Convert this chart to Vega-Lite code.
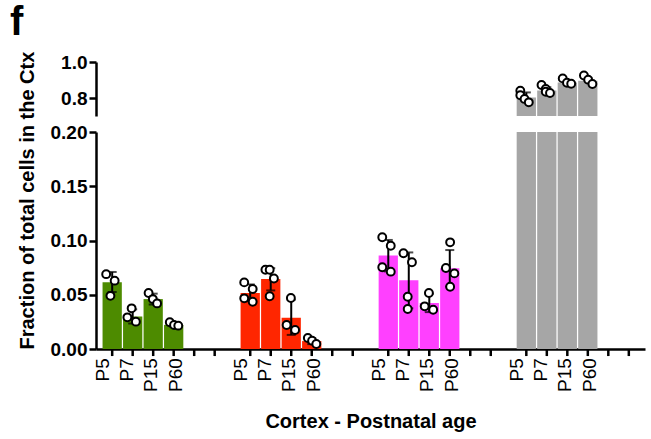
{
  "$schema": "https://vega.github.io/schema/vega-lite/v6.json",
  "padding": {"left": 10, "top": 3, "right": 5, "bottom": 5},
  "config": {
    "font": "Liberation Sans",
    "view": {"stroke": null},
    "axis": {"grid": false, "domainColor": "black", "tickColor": "black", "labelColor": "black", "titleColor": "black", "domainWidth": 2.5, "tickWidth": 2.5, "tickSize": 7, "labelFont": "Liberation Sans", "titleFont": "Liberation Sans", "labelOverlap": false}
  },
  "title": {"text": "f", "anchor": "start", "frame": "group", "fontSize": 40, "fontWeight": "bold", "font": "Liberation Sans", "color": "black", "dx": -86, "offset": 8},
  "spacing": 16,
  "bounds": "flush",
  "datasets": {
    "bars": [
      {"group": "Type 1", "age": "P5", "mean": 0.0615, "lo": 0.0525, "hi": 0.071},
      {"group": "Type 1", "age": "P7", "mean": 0.030, "lo": 0.0235, "hi": 0.0365},
      {"group": "Type 1", "age": "P15", "mean": 0.046, "lo": 0.041, "hi": 0.051},
      {"group": "Type 1", "age": "P60", "mean": 0.0222, "lo": 0.0208, "hi": 0.0237},
      {"group": "Type 2", "age": "P5", "mean": 0.0516, "lo": 0.044, "hi": 0.0595},
      {"group": "Type 2", "age": "P7", "mean": 0.0645, "lo": 0.054, "hi": 0.0745},
      {"group": "Type 2", "age": "P15", "mean": 0.0288, "lo": 0.013, "hi": 0.0455},
      {"group": "Type 2", "age": "P60", "mean": 0.0073, "lo": 0.0045, "hi": 0.010},
      {"group": "Type 3", "age": "P5", "mean": 0.0862, "lo": 0.0715, "hi": 0.1005},
      {"group": "Type 3", "age": "P7", "mean": 0.0633, "lo": 0.0375, "hi": 0.089},
      {"group": "Type 3", "age": "P15", "mean": 0.0424, "lo": 0.034, "hi": 0.051},
      {"group": "Type 3", "age": "P60", "mean": 0.0744, "lo": 0.0575, "hi": 0.0912},
      {"group": "Type 4", "age": "P5", "mean": 0.803, "lo": 0.775, "hi": 0.831},
      {"group": "Type 4", "age": "P7", "mean": 0.842, "lo": 0.825, "hi": 0.860},
      {"group": "Type 4", "age": "P15", "mean": 0.886, "lo": 0.876, "hi": 0.897},
      {"group": "Type 4", "age": "P60", "mean": 0.896, "lo": 0.880, "hi": 0.912}
    ],
    "points": [
      {"group": "Type 1", "age": "P5", "side": "L", "value": 0.069},
      {"group": "Type 1", "age": "P5", "side": "R", "value": 0.063},
      {"group": "Type 1", "age": "P5", "side": "C", "value": 0.049},
      {"group": "Type 1", "age": "P7", "side": "C", "value": 0.0375},
      {"group": "Type 1", "age": "P7", "side": "L", "value": 0.0292},
      {"group": "Type 1", "age": "P7", "side": "R", "value": 0.0252},
      {"group": "Type 1", "age": "P15", "side": "L", "value": 0.0516},
      {"group": "Type 1", "age": "P15", "side": "C", "value": 0.046},
      {"group": "Type 1", "age": "P15", "side": "R", "value": 0.042},
      {"group": "Type 1", "age": "P60", "side": "L", "value": 0.0246},
      {"group": "Type 1", "age": "P60", "side": "C", "value": 0.0221},
      {"group": "Type 1", "age": "P60", "side": "R", "value": 0.0215},
      {"group": "Type 2", "age": "P5", "side": "L", "value": 0.0614},
      {"group": "Type 2", "age": "P5", "side": "R", "value": 0.0553},
      {"group": "Type 2", "age": "P5", "side": "L", "value": 0.0467},
      {"group": "Type 2", "age": "P5", "side": "R", "value": 0.0436},
      {"group": "Type 2", "age": "P7", "side": "L", "value": 0.073},
      {"group": "Type 2", "age": "P7", "side": "C", "value": 0.073},
      {"group": "Type 2", "age": "P7", "side": "R", "value": 0.065},
      {"group": "Type 2", "age": "P7", "side": "C", "value": 0.0486},
      {"group": "Type 2", "age": "P15", "side": "C", "value": 0.047},
      {"group": "Type 2", "age": "P15", "side": "L", "value": 0.0221},
      {"group": "Type 2", "age": "P15", "side": "R", "value": 0.0175},
      {"group": "Type 2", "age": "P60", "side": "L", "value": 0.0101},
      {"group": "Type 2", "age": "P60", "side": "C", "value": 0.0077},
      {"group": "Type 2", "age": "P60", "side": "R", "value": 0.0046},
      {"group": "Type 3", "age": "P5", "side": "L", "value": 0.103},
      {"group": "Type 3", "age": "P5", "side": "R", "value": 0.0952},
      {"group": "Type 3", "age": "P5", "side": "L", "value": 0.0753},
      {"group": "Type 3", "age": "P5", "side": "R", "value": 0.0713},
      {"group": "Type 3", "age": "P7", "side": "L", "value": 0.0882},
      {"group": "Type 3", "age": "P7", "side": "R", "value": 0.080},
      {"group": "Type 3", "age": "P7", "side": "C", "value": 0.0482},
      {"group": "Type 3", "age": "P7", "side": "C", "value": 0.0369},
      {"group": "Type 3", "age": "P15", "side": "C", "value": 0.0516},
      {"group": "Type 3", "age": "P15", "side": "L", "value": 0.0393},
      {"group": "Type 3", "age": "P15", "side": "R", "value": 0.0362},
      {"group": "Type 3", "age": "P60", "side": "C", "value": 0.0983},
      {"group": "Type 3", "age": "P60", "side": "L", "value": 0.0747},
      {"group": "Type 3", "age": "P60", "side": "R", "value": 0.0697},
      {"group": "Type 3", "age": "P60", "side": "C", "value": 0.0574},
      {"group": "Type 4", "age": "P5", "side": "L", "value": 0.840},
      {"group": "Type 4", "age": "P5", "side": "L", "value": 0.815},
      {"group": "Type 4", "age": "P5", "side": "C", "value": 0.795},
      {"group": "Type 4", "age": "P5", "side": "R", "value": 0.776},
      {"group": "Type 4", "age": "P7", "side": "L", "value": 0.872},
      {"group": "Type 4", "age": "P7", "side": "C", "value": 0.850},
      {"group": "Type 4", "age": "P7", "side": "C", "value": 0.835},
      {"group": "Type 4", "age": "P7", "side": "R", "value": 0.828},
      {"group": "Type 4", "age": "P15", "side": "L", "value": 0.909},
      {"group": "Type 4", "age": "P15", "side": "C", "value": 0.885},
      {"group": "Type 4", "age": "P15", "side": "R", "value": 0.879},
      {"group": "Type 4", "age": "P60", "side": "L", "value": 0.925},
      {"group": "Type 4", "age": "P60", "side": "C", "value": 0.902},
      {"group": "Type 4", "age": "P60", "side": "R", "value": 0.878}
    ],
    "ticks": [
      {"group": "Type 1", "age": "P5", "label": "P5"},
      {"group": "Type 1", "age": "P7", "label": "P7"},
      {"group": "Type 1", "age": "P15", "label": "P15"},
      {"group": "Type 1", "age": "P60", "label": "P60"},
      {"group": "Type 1", "age": "e1", "label": ""},
      {"group": "Type 1", "age": "e2", "label": ""},
      {"group": "Type 2", "age": "P5", "label": "P5"},
      {"group": "Type 2", "age": "P7", "label": "P7"},
      {"group": "Type 2", "age": "P15", "label": "P15"},
      {"group": "Type 2", "age": "P60", "label": "P60"},
      {"group": "Type 2", "age": "e1", "label": ""},
      {"group": "Type 2", "age": "e2", "label": ""},
      {"group": "Type 3", "age": "P5", "label": "P5"},
      {"group": "Type 3", "age": "P7", "label": "P7"},
      {"group": "Type 3", "age": "P15", "label": "P15"},
      {"group": "Type 3", "age": "P60", "label": "P60"},
      {"group": "Type 3", "age": "e1", "label": ""},
      {"group": "Type 3", "age": "e2", "label": ""},
      {"group": "Type 4", "age": "P5", "label": "P5"},
      {"group": "Type 4", "age": "P7", "label": "P7"},
      {"group": "Type 4", "age": "P15", "label": "P15"},
      {"group": "Type 4", "age": "P60", "label": "P60"},
      {"group": "Type 4", "age": "e1", "label": ""},
      {"group": "Type 4", "age": "e2", "label": ""}
    ]
  },
  "vconcat": [
    {
      "width": 549,
      "height": 54,
      "resolve": {"scale": {"xOffset": "independent"}},
      "encoding": {
        "x": {"field": "group", "type": "nominal", "scale": {"domain": ["Type 1", "Type 2", "Type 3", "Type 4"], "paddingInner": 0.109, "paddingOuter": 0.043}, "axis": null}
      },
      "layer": [
        {
          "data": {"name": "bars"},
          "mark": {"type": "bar", "clip": true},
          "encoding": {
            "xOffset": {"field": "age", "type": "nominal", "scale": {"domain": ["P5", "P7", "P15", "P60", "e1", "e2"], "paddingInner": 0.06, "paddingOuter": 0.03}},
            "y": {"field": "mean", "type": "quantitative", "scale": {"domain": [0.7, 1.0], "nice": false, "zero": false}, "axis": {"title": null, "values": [0.8, 1.0], "format": ".1f", "labelFontSize": 19, "labelFontWeight": "bold", "labelPadding": 2}},
            "color": {"field": "group", "type": "nominal", "scale": {"domain": ["Type 1", "Type 2", "Type 3", "Type 4"], "range": ["#4d8b00", "#ff2600", "#ff40ff", "#a6a6a6"]}, "legend": null}
          }
        },
        {
          "data": {"name": "bars"},
          "transform": [{"filter": "datum.group == 'Type 4'"}],
          "mark": {"type": "rule", "color": "black", "strokeWidth": 2, "clip": true},
          "encoding": {
            "xOffset": {"field": "age", "type": "nominal", "scale": {"domain": ["P5", "P7", "P15", "P60", "e1", "e2"], "paddingInner": 0.06, "paddingOuter": 0.03}},
            "y": {"field": "lo", "type": "quantitative"},
            "y2": {"field": "hi"}
          }
        },
        {
          "data": {"name": "bars"},
          "transform": [{"filter": "datum.group == 'Type 4'"}],
          "mark": {"type": "tick", "color": "black", "thickness": 2, "size": 9, "orient": "horizontal", "clip": true},
          "encoding": {
            "xOffset": {"field": "age", "type": "nominal", "scale": {"domain": ["P5", "P7", "P15", "P60", "e1", "e2"], "paddingInner": 0.06, "paddingOuter": 0.03}},
            "y": {"field": "hi", "type": "quantitative"}
          }
        },
        {
          "data": {"name": "points"},
          "transform": [{"filter": "datum.group == 'Type 4'"}, {"calculate": "datum.age + '|' + datum.side", "as": "slot"}],
          "mark": {"type": "point", "shape": "circle", "fill": "white", "stroke": "black", "strokeWidth": 2, "size": 62, "opacity": 1},
          "encoding": {
            "xOffset": {"field": "slot", "type": "nominal", "scale": {"domain": ["P5|LL", "P5|L", "P5|C", "P5|R", "P5|RR", "P7|LL", "P7|L", "P7|C", "P7|R", "P7|RR", "P15|LL", "P15|L", "P15|C", "P15|R", "P15|RR", "P60|LL", "P60|L", "P60|C", "P60|R", "P60|RR", "e1|LL", "e1|L", "e1|C", "e1|R", "e1|RR", "e2|LL", "e2|L", "e2|C", "e2|R", "e2|RR"], "paddingInner": 0, "paddingOuter": 0}},
            "y": {"field": "value", "type": "quantitative"}
          }
        }
      ]
    },
    {
      "width": 549,
      "height": 217,
      "resolve": {"scale": {"xOffset": "independent"}},
      "encoding": {
        "x": {"field": "group", "type": "nominal", "scale": {"domain": ["Type 1", "Type 2", "Type 3", "Type 4"], "paddingInner": 0.109, "paddingOuter": 0.043}, "axis": {"title": "Cortex - Postnatal age", "labels": false, "ticks": false, "titleFontSize": 20, "titleFontWeight": "bold", "titlePadding": 62}}
      },
      "layer": [
        {
          "data": {"name": "bars"},
          "mark": {"type": "bar", "clip": true},
          "encoding": {
            "xOffset": {"field": "age", "type": "nominal", "scale": {"domain": ["P5", "P7", "P15", "P60", "e1", "e2"], "paddingInner": 0.06, "paddingOuter": 0.03}},
            "y": {"field": "mean", "type": "quantitative", "scale": {"domain": [0, 0.2], "nice": false}, "axis": {"title": "Fraction of total cells in the Ctx", "titleAnchor": "start", "titleFontSize": 20, "titleFontWeight": "bold", "titlePadding": 13, "values": [0, 0.05, 0.1, 0.15, 0.2], "format": ".2f", "labelFontSize": 19, "labelFontWeight": "bold", "labelPadding": 2}},
            "color": {"field": "group", "type": "nominal", "scale": {"domain": ["Type 1", "Type 2", "Type 3", "Type 4"], "range": ["#4d8b00", "#ff2600", "#ff40ff", "#a6a6a6"]}, "legend": null}
          }
        },
        {
          "data": {"name": "bars"},
          "transform": [{"filter": "datum.group != 'Type 4'"}],
          "mark": {"type": "rule", "color": "black", "strokeWidth": 2},
          "encoding": {
            "xOffset": {"field": "age", "type": "nominal", "scale": {"domain": ["P5", "P7", "P15", "P60", "e1", "e2"], "paddingInner": 0.06, "paddingOuter": 0.03}},
            "y": {"field": "lo", "type": "quantitative"},
            "y2": {"field": "hi"}
          }
        },
        {
          "data": {"name": "bars"},
          "transform": [{"filter": "datum.group != 'Type 4'"}],
          "mark": {"type": "tick", "color": "black", "thickness": 2, "size": 9, "orient": "horizontal"},
          "encoding": {
            "xOffset": {"field": "age", "type": "nominal", "scale": {"domain": ["P5", "P7", "P15", "P60", "e1", "e2"], "paddingInner": 0.06, "paddingOuter": 0.03}},
            "y": {"field": "hi", "type": "quantitative"}
          }
        },
        {
          "data": {"name": "bars"},
          "transform": [{"filter": "datum.group != 'Type 4'"}],
          "mark": {"type": "tick", "color": "black", "thickness": 2, "size": 9, "orient": "horizontal"},
          "encoding": {
            "xOffset": {"field": "age", "type": "nominal", "scale": {"domain": ["P5", "P7", "P15", "P60", "e1", "e2"], "paddingInner": 0.06, "paddingOuter": 0.03}},
            "y": {"field": "lo", "type": "quantitative"}
          }
        },
        {
          "data": {"name": "points"},
          "transform": [{"filter": "datum.group != 'Type 4'"}, {"calculate": "datum.age + '|' + datum.side", "as": "slot"}],
          "mark": {"type": "point", "shape": "circle", "fill": "white", "stroke": "black", "strokeWidth": 2, "size": 62, "opacity": 1},
          "encoding": {
            "xOffset": {"field": "slot", "type": "nominal", "scale": {"domain": ["P5|LL", "P5|L", "P5|C", "P5|R", "P5|RR", "P7|LL", "P7|L", "P7|C", "P7|R", "P7|RR", "P15|LL", "P15|L", "P15|C", "P15|R", "P15|RR", "P60|LL", "P60|L", "P60|C", "P60|R", "P60|RR", "e1|LL", "e1|L", "e1|C", "e1|R", "e1|RR", "e2|LL", "e2|L", "e2|C", "e2|R", "e2|RR"], "paddingInner": 0, "paddingOuter": 0}},
            "y": {"field": "value", "type": "quantitative"}
          }
        },
        {
          "data": {"name": "ticks"},
          "mark": {"type": "rule", "color": "black", "strokeWidth": 2.5},
          "encoding": {
            "xOffset": {"field": "age", "type": "nominal", "scale": {"domain": ["P5", "P7", "P15", "P60", "e1", "e2"], "paddingInner": 0.06, "paddingOuter": 0.03}},
            "y": {"datum": 0, "type": "quantitative"},
            "y2": {"datum": -0.0065}
          }
        },
        {
          "data": {"name": "ticks"},
          "mark": {"type": "text", "angle": 270, "align": "right", "baseline": "middle", "fontSize": 19, "font": "Liberation Sans", "color": "black"},
          "encoding": {
            "xOffset": {"field": "age", "type": "nominal", "scale": {"domain": ["P5", "P7", "P15", "P60", "e1", "e2"], "paddingInner": 0.06, "paddingOuter": 0.03}},
            "y": {"datum": -0.0085, "type": "quantitative"},
            "text": {"field": "label"}
          }
        }
      ]
    }
  ]
}
